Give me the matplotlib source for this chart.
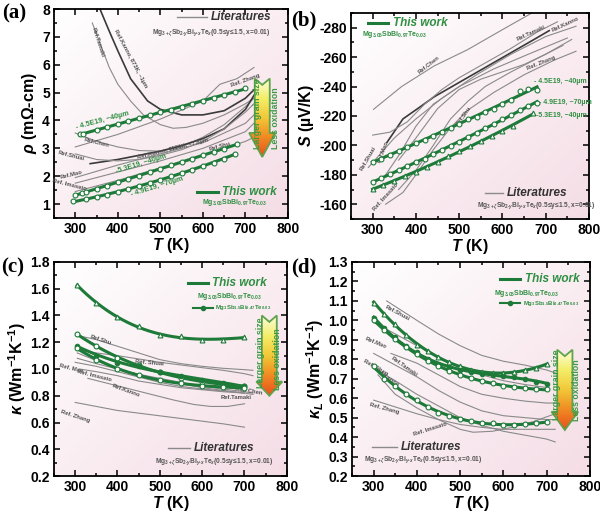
import numpy as np
import matplotlib.pyplot as plt
from matplotlib.colors import LinearSegmentedColormap
from matplotlib.patches import Polygon
from matplotlib.ticker import MultipleLocator

plt.rcParams['font.family'] = ['Liberation Sans', 'DejaVu Sans']
plt.rcParams['font.weight'] = 'bold'
plt.rcParams['axes.labelweight'] = 'bold'
plt.rcParams['axes.unicode_minus'] = False
plt.rcParams['mathtext.fontset'] = 'custom'
plt.rcParams['mathtext.rm'] = 'Liberation Sans:bold'
plt.rcParams['mathtext.it'] = 'Liberation Sans:italic:bold'
plt.rcParams['mathtext.bf'] = 'Liberation Sans:bold'

#%% - data
# (a) resistivity, this work
a_T45 = [310, 318, 350, 375, 400, 425, 450, 475, 500, 525, 550, 575, 600, 625, 650, 675, 700]
a_rho45 = [3.50, 3.53, 3.66, 3.76, 3.87, 3.97, 4.08, 4.18, 4.29, 4.39, 4.50, 4.60, 4.71, 4.82, 4.92, 5.03, 5.15]
a_T53 = [300, 315, 325, 350, 375, 400, 425, 450, 475, 500, 525, 550, 575, 600, 625, 650, 680]
a_rho53 = [1.33, 1.38, 1.43, 1.55, 1.66, 1.78, 1.90, 2.02, 2.15, 2.27, 2.39, 2.52, 2.63, 2.75, 2.87, 2.98, 3.15]
a_T49 = [295, 325, 350, 375, 400, 425, 450, 475, 500, 525, 550, 575, 600, 625, 650, 675]
a_rho49 = [1.10, 1.17, 1.25, 1.34, 1.43, 1.54, 1.65, 1.76, 1.88, 2.00, 2.12, 2.24, 2.36, 2.49, 2.62, 2.80]

# (a) literature
a_ref_T = [
    [358, 380, 400, 430, 470, 500, 550, 600, 650, 700, 720],            # Kanno 873K
    [340, 360, 380, 400, 430, 460, 500, 530, 560, 600, 650, 700, 720],  # Tamaki
    [300, 400, 500, 600, 640, 680, 720],                                 # Zhang
    [300, 350, 400, 450, 500, 550, 600, 650, 700, 720],                  # Chen
    [335, 400, 450, 500, 550, 600, 650, 700, 720],                       # Kanno 1123K
    [300, 350, 400, 450, 500, 550, 600, 650, 700, 720],                  # Shuai
    [300, 400, 500, 600, 700, 720],                                      # Mao
    [300, 400, 500, 600, 700, 720],                                      # Imasato
    [300, 400, 500, 600, 700, 720],                                      # Shu
]
a_ref_val = [
    [8.0, 7.2, 6.5, 5.5, 4.7, 4.4, 4.2, 4.2, 4.35, 4.8, 5.1],
    [7.5, 6.7, 5.9, 5.3, 4.7, 4.2, 3.85, 3.72, 3.75, 3.9, 4.2, 4.6, 4.8],
    [3.05, 3.5, 4.05, 4.7, 5.3, 5.5, 5.9],
    [3.55, 3.25, 3.05, 2.92, 2.9, 3.05, 3.4, 3.85, 4.5, 4.8],
    [2.45, 2.6, 2.75, 2.9, 3.1, 3.35, 3.7, 4.4, 4.9],
    [2.8, 2.6, 2.55, 2.6, 2.75, 2.95, 3.25, 3.7, 4.3, 4.6],
    [1.95, 2.4, 2.8, 3.2, 3.9, 4.2],
    [1.75, 2.15, 2.55, 3.0, 3.6, 3.9],
    [1.45, 1.85, 2.3, 2.75, 3.25, 3.4],
]
a_ref_dark = [True, False, False, False, True, False, False, False, False]
a_ref_lbl = ['Ref.Kanno, 873K, ~1µm', 'Ref.Tamaki', 'Ref. Zhang', 'Ref.Chen', 'Ref.Kanno, 1123K, ~7.8µm',
             'Ref.Shuai', 'Ref.Mao', 'Ref. Imasato', 'Ref.Shu']
a_lbl_xy = [(430, 6.2), (352, 6.8), (700, 5.45), (350, 3.2), (530, 2.98), (290, 2.72), (290, 2.05), (285, 1.68), (640, 3.05)]
a_lbl_rot = [-62, -72, 20, -14, 14, -14, 14, -14, 16]

# (b) Seebeck, this work
b_T = [300, 320, 340, 360, 380, 400, 420, 440, 460, 480, 500, 520, 540, 560, 580, 600, 620, 640, 660, 680]
b_S45 = [-188.5, -191, -193.5, -196.5, -199, -201.5, -204, -206.5, -209, -212, -214.5, -218, -219.5, -223, -225,
         -228, -231, -237, -238, -237.5]
b_S49 = [-175, -178, -180.5, -183, -186, -188.5, -191, -194, -197, -199.5, -202.5, -205.5, -208.5, -211.5, -214.5,
         -218, -221, -224, -226.5, -229]
b_T53 = [300, 325, 350, 375, 400, 425, 450, 475, 500, 525, 550, 575, 600, 625, 670]
b_S53 = [-170.5, -173, -176, -179, -182, -185.5, -189, -192.5, -196, -199.5, -203, -206.5, -210, -213, -222]

b_ref_T = [
    [302, 367, 442, 519, 596, 680],                                  # Chen
    [333, 370, 404, 442, 519, 596, 673, 708],                        # Kanno
    [300, 340, 380, 420, 460, 500, 560, 620, 680, 727],              # Tamaki
    [360, 400, 450, 500, 550, 600, 650, 700, 740],                   # Zhang
    [360, 400, 440, 480, 520, 560, 620, 700, 760],                   # Shu
    [330, 360, 400, 440, 500, 580, 660, 750],                        # Mao
    [290, 320, 350, 400, 460, 540, 620, 700, 770],                   # Shuai
    [330, 370, 400, 440, 480, 520, 580, 650, 720, 770],              # Imasato
]
b_ref_val = [
    [-224.5, -240, -254, -265, -278, -292],
    [-202, -218, -225, -233, -246, -259, -272, -278],
    [-207, -209, -216, -228, -238, -246, -256, -266, -277, -284],
    [-190, -205, -225, -238, -245, -250, -255, -262, -268],
    [-170, -183, -200, -218, -230, -240, -250, -262, -272],
    [-180, -193, -213, -228, -240, -252, -262, -273],
    [-185, -195, -205, -218, -232, -248, -262, -274, -281],
    [-160, -168, -180, -197, -212, -224, -236, -248, -258, -264],
]
b_ref_dark = [False, True, False, False, False, False, False, False]
b_ref_lbl = ['Ref.Chen', 'Ref.Kanno', 'Ref.Tamaki', 'Ref. Zhang', 'Ref.Shu', 'Ref.Mao', 'Ref.Shuai', 'Ref. Imasato']
b_lbl_xy = [(430, -255), (745, -282), (665, -276), (690, -256), (510, -220), (325, -196), (290, -191), (330, -165)]
b_lbl_rot = [38, 25, 25, 22, 55, 70, 60, 48]

# (c) thermal conductivity, this work
c_T = [305, 350, 400, 450, 500, 550, 600, 650, 700]
c_k_tri = [1.63, 1.49, 1.385, 1.32, 1.255, 1.245, 1.22, 1.215, 1.24]
c_k_A = [1.26, 1.17, 1.085, 1.03, 0.975, 0.935, 0.905, 0.885, 0.87]
c_k_B = [1.175, 1.10, 1.045, 1.025, 0.98, 0.948, 0.92, 0.895, 0.872]
c_k_C = [1.155, 1.07, 1.00, 0.955, 0.92, 0.895, 0.872, 0.862, 0.86]

c_ref_T = [
    [305, 350, 400, 450, 500, 550, 600, 650, 700, 720],  # Shu
    [305, 350, 400, 450, 500, 550, 600, 650, 700, 720],  # Shuai
    [300, 350, 400, 450, 500, 550, 600, 650, 700],       # Mao
    [310, 350, 400, 450, 500, 550, 600, 650, 700],       # Imasato
    [330, 380, 430, 480, 530, 580, 620, 660, 700],       # Kanno
    [305, 350, 400, 450, 500, 550, 600, 650, 700, 720],  # Chen
    [305, 400, 500, 600, 700, 720],                      # Tamaki
    [300, 350, 400, 450, 500, 550, 600, 650, 700],       # Zhang
]
c_ref_val = [
    [1.25, 1.22, 1.17, 1.12, 1.07, 1.04, 1.02, 1.005, 0.995, 0.99],
    [1.14, 1.12, 1.10, 1.075, 1.05, 1.03, 1.01, 0.99, 0.965, 0.95],
    [1.05, 1.02, 0.98, 0.94, 0.90, 0.87, 0.85, 0.835, 0.82],
    [1.0, 0.98, 0.95, 0.91, 0.885, 0.86, 0.845, 0.83, 0.82],
    [0.93, 0.89, 0.85, 0.81, 0.77, 0.735, 0.72, 0.72, 0.74],
    [1.08, 1.04, 1.0, 0.96, 0.93, 0.9, 0.87, 0.85, 0.83, 0.82],
    [1.12, 1.0, 0.92, 0.86, 0.82, 0.81],
    [0.75, 0.72, 0.69, 0.67, 0.65, 0.63, 0.61, 0.59, 0.565],
]
c_ref_lbl = ['Ref.Shu', 'Ref. Shuai', 'Ref. Mao', 'Ref. Imasato', 'Ref.Kanno', 'Ref. Chen', 'Ref.Tamaki', 'Ref. Zhang']
c_lbl_xy = [(360, 1.22), (475, 1.045), (290, 1.0), (345, 0.95), (420, 0.835), (710, 0.835), (680, 0.79), (300, 0.65)]
c_lbl_rot = [-18, -5, -14, -14, -20, -10, 0, -18]

# (d) lattice thermal conductivity, this work
d_T = [300, 325, 350, 375, 400, 425, 450, 475, 500, 525, 550, 575, 600, 625, 650, 675, 700]
d_k_tri = [1.09, 1.035, 0.98, 0.925, 0.875, 0.84, 0.81, 0.785, 0.765, 0.745, 0.735, 0.73, 0.728, 0.735, 0.745,
           0.755, 0.775]
d_k_fill = [1.01, 0.96, 0.915, 0.87, 0.835, 0.80, 0.775, 0.76, 0.745, 0.735, 0.725, 0.72, 0.715, 0.71, 0.70, 0.685,
            0.675]
d_k_open = [1.00, 0.95, 0.905, 0.865, 0.825, 0.79, 0.765, 0.74, 0.72, 0.705, 0.69, 0.68, 0.665, 0.655, 0.65, 0.645,
            0.645]
d_k_low = [0.765, 0.70, 0.665, 0.62, 0.59, 0.555, 0.525, 0.51, 0.495, 0.485, 0.475, 0.47, 0.46, 0.46, 0.465, 0.47,
           0.48]

d_ref_T = [
    [330, 400, 450, 500, 550, 600, 650, 700, 720],       # Shuai
    [300, 350, 400, 450, 500, 550, 600, 650, 700],       # Mao
    [340, 400, 450, 500, 550, 600, 650, 700, 720],       # Tamaki
    [300, 350, 400, 450, 500, 550, 600, 650, 700, 720],  # Chen
    [310, 350, 400, 450, 500, 550, 600, 650, 700, 720],  # Kanno
    [300, 350, 400, 450, 500, 550, 600, 650, 700, 720],  # Zhang
    [310, 350, 400, 450, 500, 530, 575, 620, 670, 720],  # Imasato
]
d_ref_val = [
    [1.10, 1.0, 0.93, 0.87, 0.82, 0.79, 0.77, 0.745, 0.73],
    [0.99, 0.93, 0.87, 0.81, 0.76, 0.72, 0.69, 0.67, 0.655],
    [0.83, 0.78, 0.72, 0.66, 0.62, 0.60, 0.585, 0.575, 0.575],
    [0.83, 0.77, 0.71, 0.64, 0.58, 0.535, 0.51, 0.50, 0.49, 0.49],
    [0.74, 0.69, 0.62, 0.56, 0.50, 0.46, 0.43, 0.41, 0.39, 0.375],
    [0.59, 0.555, 0.52, 0.49, 0.465, 0.45, 0.44, 0.44, 0.44, 0.44],
    [0.72, 0.62, 0.55, 0.49, 0.44, 0.425, 0.43, 0.45, 0.48, 0.52],
]
d_ref_lbl = ['Ref.Shuai', 'Ref.Mao', 'Ref.Tamaki', 'Ref. Chen', 'Ref.Kanno', 'Ref. Zhang', 'Ref. Imasato']
d_lbl_xy = [(355, 1.04), (305, 0.885), (370, 0.76), (305, 0.755), (330, 0.71), (325, 0.545), (430, 0.44)]
d_lbl_rot = [-28, -22, -35, -30, -35, -15, 18]

#%% - styling
green = '#1d7a38'
tgreen = '#2f8f42'
gray = '#8a8a8a'
dark = '#3a3a3a'
formula = r'Mg$_{3+\zeta}$Sb$_{2\text{-}y}$Bi$_{y\text{-}x}$Te$_x$(0.5≤y≤1.5, x=0.01)'
tw_formula = r'Mg$_{3.05}$SbBi$_{0.97}$Te$_{0.03}$'
tw2_formula = r'Mg$_3$Sb$_{1.5}$Bi$_{0.47}$Te$_{0.03}$'

bg_cmap = LinearSegmentedColormap.from_list('bg', ['#ffffff', '#f5dde6'])
arrow_cmap = LinearSegmentedColormap.from_list('arr', ['#e8501e', '#f08a22', '#f2c838', '#f4ee6a', '#fdfde0'])

fig = plt.figure(figsize=(6, 5.15), dpi=100)


def setup(ax, ylim, ymaj, ymin_, ylabel):
    xx, yy = np.meshgrid(np.linspace(0, 1, 60), np.linspace(0, 1, 60))
    ax.imshow((xx + (1 - yy)) / 2, extent=[0, 1, 1, 0], transform=ax.transAxes, cmap=bg_cmap,
              aspect='auto', zorder=0, vmin=0, vmax=1)
    ax.set_xlim(250, 800)
    ax.set_ylim(*ylim)
    ax.xaxis.set_major_locator(MultipleLocator(100))
    ax.xaxis.set_minor_locator(MultipleLocator(50))
    ax.yaxis.set_major_locator(MultipleLocator(ymaj))
    ax.yaxis.set_minor_locator(MultipleLocator(ymin_))
    ax.tick_params(which='both', direction='in', top=True, right=True, width=1.1, labelsize=10, pad=3)
    ax.tick_params(which='major', length=4)
    ax.tick_params(which='minor', length=2.2)
    for s in ax.spines.values():
        s.set_linewidth(1.3)
    ax.set_xlabel(r'$T$ (K)', fontsize=11.5, labelpad=0, fontweight='bold')
    ax.set_ylabel(ylabel, fontsize=11.5, labelpad=2, fontweight='bold')


def refs(ax, Ts, Vs, dark_flags, lbls, xys, rots):
    for i in range(len(Ts)):
        c = dark if dark_flags[i] else gray
        ax.plot(Ts[i], Vs[i], color=c, lw=1.2 if dark_flags[i] else 0.8, zorder=2)
    for i in range(len(lbls)):
        ax.text(xys[i][0], xys[i][1], lbls[i], fontsize=4.2, color='#505050', rotation=rots[i],
                ha='center', va='center', rotation_mode='anchor', zorder=3)


def work(ax, T, v, marker, fill='white', deg=3, ms=3.5):
    f = np.polyfit(T, v, deg)
    tt = np.linspace(min(T), max(T), 200)
    ax.plot(tt, np.polyval(f, tt), color=green, lw=2.2, zorder=4)
    ax.plot(T, v, ls='none', marker=marker, ms=ms, mfc=fill, mec=green, mew=0.8, zorder=5)


def arrow(ax, cx, top, bottom, head, t1xy, t2xy, bw=0.032, hw=0.056, notch=0.03):
    pts = [(cx - bw, top), (cx, top - notch), (cx + bw, top), (cx + bw, head), (cx + hw, head),
           (cx, bottom), (cx - hw, head), (cx - bw, head)]
    poly = Polygon(pts, closed=True, transform=ax.transAxes, fc='none', ec='#5fa34a', lw=1.3, zorder=7)
    ax.add_patch(poly)
    g = np.linspace(0, 1, 100).reshape(-1, 1)
    im = ax.imshow(g, extent=[cx - hw, cx + hw, bottom, top], transform=ax.transAxes, cmap=arrow_cmap,
                   aspect='auto', zorder=6, origin='lower')
    im.set_clip_path(poly)
    ax.text(t1xy[0], t1xy[1], 'Larger grain size', transform=ax.transAxes, rotation=90, fontsize=6.3,
            color='#3c9a44', ha='center', va='center', zorder=8)
    ax.text(t2xy[0], t2xy[1], 'Less oxidation', transform=ax.transAxes, rotation=90, fontsize=6.3,
            color='#3c9a44', ha='center', va='center', zorder=8)


def lit_legend(ax, x0, x1, y, fx, fy):
    ax.plot([x0, x1], [y, y], color=gray, lw=1.0, transform=ax.transAxes, zorder=6)
    ax.text(x1 + 0.015, y, 'Literatures', transform=ax.transAxes, fontsize=8.5, style='italic',
            color='#333333', va='center', ha='left', zorder=6)
    ax.text(fx, fy, formula, transform=ax.transAxes, fontsize=4.8, color='#555555',
            va='center', ha='center', zorder=6)


def tw_legend(ax, x0, x1, y, fx, fy):
    ax.plot([x0, x1], [y, y], color=green, lw=2.2, transform=ax.transAxes, zorder=6)
    ax.text(x1 + 0.02, y, 'This work', transform=ax.transAxes, fontsize=8.5, style='italic',
            color=tgreen, va='center', ha='left', zorder=6)
    ax.text(fx, fy, tw_formula, transform=ax.transAxes, fontsize=5, color=tgreen,
            va='center', ha='center', zorder=6)


#%% - (a)
ax = fig.add_axes([0.09, 0.5767, 0.39, 0.4058])
setup(ax, (0.5, 8), 1, 0.5, r'$\rho$ (m$\Omega$-cm)')
refs(ax, a_ref_T, a_ref_val, a_ref_dark, a_ref_lbl, a_lbl_xy, a_lbl_rot)
work(ax, a_T45, a_rho45, 'o', deg=1)
work(ax, a_T53, a_rho53, 'o', deg=2)
work(ax, a_T49, a_rho49, 'o', deg=2)
ax.text(365, 3.98, '- 4.5E19, ~40µm', fontsize=5.2, color=tgreen, rotation=15, ha='center', va='center',
        rotation_mode='anchor', zorder=6)
ax.text(455, 2.45, '-5.3E19, ~40µm', fontsize=5.2, color=tgreen, rotation=17, ha='center', va='center',
        rotation_mode='anchor', zorder=6)
ax.text(492, 1.62, '- 4.9E19, ~70µm', fontsize=5.2, color=tgreen, rotation=17, ha='center', va='center',
        rotation_mode='anchor', zorder=6)
arrow(ax, 0.89, 0.667, 0.292, 0.407, (0.868, 0.50), (0.948, 0.478))
lit_legend(ax, 0.526, 0.654, 0.962, 0.672, 0.885)
tw_legend(ax, 0.611, 0.70, 0.124, 0.773, 0.072)
fig.text(0.004, 0.973, '(a)', fontsize=15, fontweight='bold', family='Liberation Serif', va='center')

#%% - (b)
ax = fig.add_axes([0.585, 0.5748, 0.3967, 0.40])
setup(ax, (-150, -290), 20, 10, r'$S$ (µV/K)')
refs(ax, b_ref_T, b_ref_val, b_ref_dark, b_ref_lbl, b_lbl_xy, b_lbl_rot)
work(ax, b_T, b_S45, 'o', deg=2)
work(ax, b_T, b_S49, 'o', deg=2)
work(ax, b_T53, b_S53, '^', deg=2)
ax.text(672, -243.5, '- 4.5E19, ~40µm', fontsize=5, color=tgreen, ha='left', va='center', zorder=6)
ax.text(684, -229, '- 4.9E19, ~70µm', fontsize=5, color=tgreen, ha='left', va='center', zorder=6)
ax.text(678, -220.5, '-5.3E19, ~40µm', fontsize=5, color=tgreen, ha='left', va='center', zorder=6)
tw_legend(ax, 0.071, 0.155, 0.953, 0.185, 0.896)
lit_legend(ax, 0.563, 0.639, 0.126, 0.776, 0.063)
fig.text(0.485, 0.96, '(b)', fontsize=15, fontweight='bold', family='Liberation Serif', va='center')

#%% - (c)
ax = fig.add_axes([0.09, 0.0757, 0.388, 0.4156])
setup(ax, (0.2, 1.8), 0.2, 0.1, r'$\kappa$ (Wm$^{-1}$K$^{-1}$)')
refs(ax, c_ref_T, c_ref_val, [False] * 8, c_ref_lbl, c_lbl_xy, c_lbl_rot)
work(ax, c_T, c_k_tri, '^', deg=3)
work(ax, c_T, c_k_A, 'o', deg=3)
work(ax, c_T, c_k_B, 'o', fill=green, deg=3, ms=3.2)
work(ax, c_T, c_k_C, 'o', deg=3)
arrow(ax, 0.925, 0.75, 0.375, 0.441, (0.888, 0.576), (0.958, 0.547))
tw_legend(ax, 0.575, 0.66, 0.902, 0.755, 0.841)
ax.plot([0.597, 0.682], [0.787, 0.787], color=green, lw=1.5, transform=ax.transAxes, zorder=6)
ax.plot([0.64], [0.787], 'o', color=green, ms=3, transform=ax.transAxes, zorder=6)
ax.text(0.69, 0.787, tw2_formula, transform=ax.transAxes, fontsize=4.3, color=tgreen, va='center', zorder=6)
lit_legend(ax, 0.49, 0.584, 0.13, 0.69, 0.062)
fig.text(0.002, 0.48, '(c)', fontsize=15, fontweight='bold', family='Liberation Serif', va='center')

#%% - (d)
ax = fig.add_axes([0.5867, 0.0757, 0.3963, 0.4156])
setup(ax, (0.2, 1.3), 0.1, 0.05, r'$\kappa_L$ (Wm$^{-1}$K$^{-1}$)')
refs(ax, d_ref_T, d_ref_val, [False] * 7, d_ref_lbl, d_lbl_xy, d_lbl_rot)
work(ax, d_T, d_k_tri, '^', deg=3)
work(ax, d_T, d_k_fill, 'o', fill=green, deg=3, ms=3.2)
work(ax, d_T, d_k_open, 'o', deg=3)
work(ax, d_T, d_k_low, 'o', deg=3)
arrow(ax, 0.895, 0.59, 0.215, 0.30, (0.862, 0.426), (0.944, 0.40))
tw_legend(ax, 0.622, 0.706, 0.922, 0.736, 0.851)
ax.plot([0.622, 0.706], [0.808, 0.808], color=green, lw=1.5, transform=ax.transAxes, zorder=6)
ax.plot([0.664], [0.808], 'o', color=green, ms=3, transform=ax.transAxes, zorder=6)
ax.text(0.72, 0.808, tw2_formula, transform=ax.transAxes, fontsize=4.3, color=tgreen, va='center', zorder=6)
lit_legend(ax, 0.084, 0.189, 0.135, 0.30, 0.072)
fig.text(0.486, 0.48, '(d)', fontsize=15, fontweight='bold', family='Liberation Serif', va='center')

fig.savefig('out.png', dpi=100)
